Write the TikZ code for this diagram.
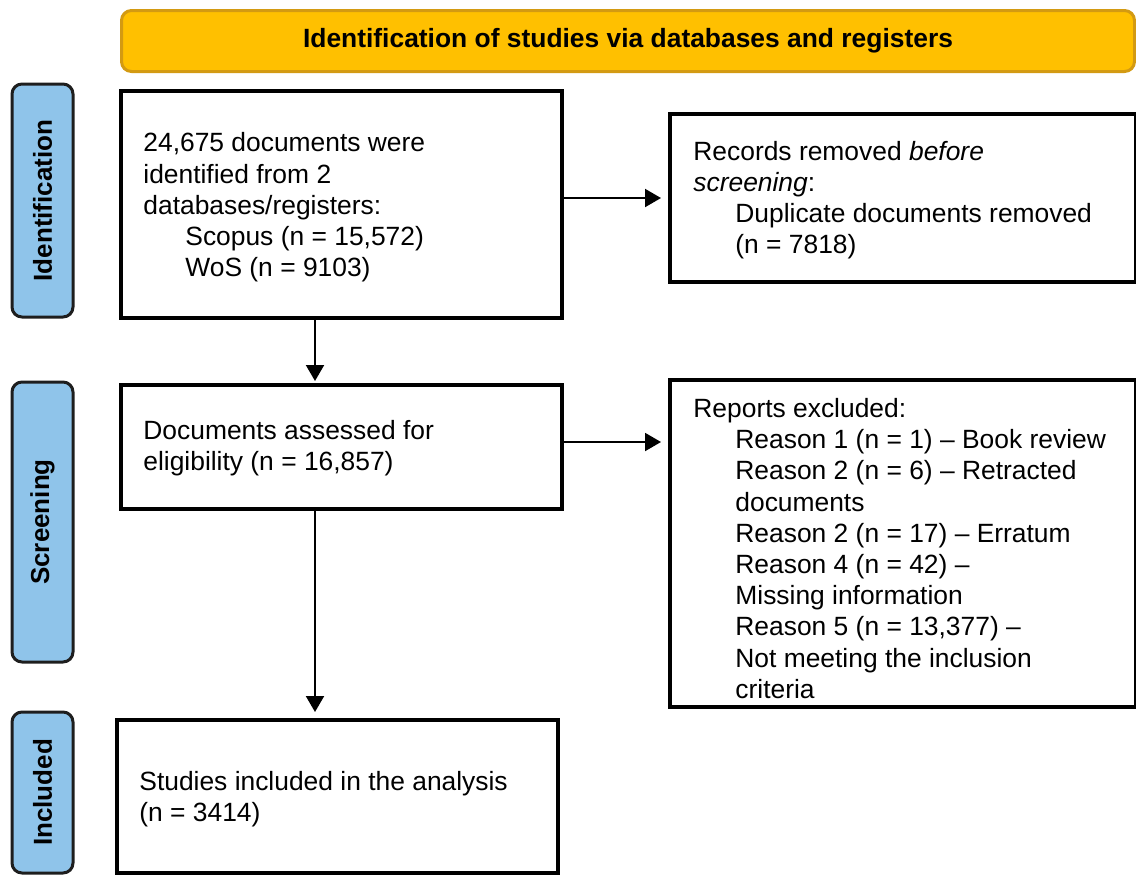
\documentclass[tikz,border=0pt]{standalone}
\usepackage{fontspec}
\setmainfont{Liberation Sans}
\usetikzlibrary{arrows.meta,calc}

\definecolor{bannerfill}{HTML}{FFC000}
\definecolor{bannerline}{HTML}{D39A12}
\definecolor{tabfill}{HTML}{8FC4EA}
\definecolor{tabline}{HTML}{1E1E1E}

\tikzset{
  x=0.5pt, y=-0.5pt,
  flowbox/.style={draw=black, line width=2pt, rectangle, anchor=north west, inner sep=0pt},
  boxtext/.style={anchor=west, align=left, inner sep=0pt,
    font=\fontsize{13.2}{15.6}\selectfont},
  phase/.style={draw=tabline, fill=tabfill, line width=1.5pt, rounded corners=5pt,
    rotate=90, minimum height=30.5pt, inner sep=0pt,
    font=\fontsize{13}{15.6}\selectfont\bfseries},
  flowarrow/.style={line width=1pt, -{Triangle[length=8pt,width=9pt]}},
}
\newcommand{\ind}{\hspace*{21pt}}

\begin{document}
\begin{tikzpicture}
\useasboundingbox (0,0) rectangle (1136,875);

% top banner
\node[draw=bannerline, fill=bannerfill, line width=1.5pt, rounded corners=5pt,
      anchor=north west, minimum width=506.5pt, minimum height=30.5pt, inner sep=0pt,
      font=\fontsize{13.2}{15.6}\selectfont\bfseries]
  (banner) at (120,9) {Identification of studies via databases and registers};

% phase labels on the left
\node[phase, minimum width=116.5pt] (tabid) at (42.5,200.5) {Identification};
\node[phase, minimum width=140pt]   (tabsc) at (42.5,522) {Screening};
\node[phase, minimum width=80.5pt]  (tabin) at (42.5,792.5) {Included};

% flow boxes
\node[flowbox, minimum width=220.5pt, minimum height=113.5pt] (b1) at (119,89) {};
\node[flowbox, minimum width=233pt,   minimum height=84pt]    (b2) at (668,112) {};
\node[flowbox, minimum width=220.5pt, minimum height=62pt]    (b3) at (119,383) {};
\node[flowbox, minimum width=233pt,   minimum height=163.5pt] (b4) at (668,378) {};
\node[flowbox, minimum width=220.5pt, minimum height=76.5pt]  (b5) at (115,718) {};

% box contents
\node[boxtext] (t1) at ([xshift=12pt,yshift=-1.5pt]b1.west) {24,675 documents were\\
  identified from 2\\
  databases/registers:\\
  \ind Scopus (n = 15,572)\\
  \ind WoS (n = 9103)};
\node[boxtext] (t2) at ([xshift=12.5pt,yshift=-1pt]b2.west) {Records removed \textit{before}\\
  \textit{screening}:\\
  \ind Duplicate documents removed\\
  \ind (n = 7818)};
\node[boxtext] (t3) at ([xshift=12pt,yshift=-0.5pt]b3.west) {Documents assessed for\\
  eligibility (n = 16,857)};
\node[boxtext] (t4) at ([xshift=12.5pt,yshift=-2.5pt]b4.west) {Reports excluded:\\
  \ind Reason 1 (n = 1) – Book review\\
  \ind Reason 2 (n = 6) – Retracted\\
  \ind documents\\
  \ind Reason 2 (n = 17) – Erratum\\
  \ind Reason 4 (n = 42) –\\
  \ind Missing information\\
  \ind Reason 5 (n = 13,377) –\\
  \ind Not meeting the inclusion\\
  \ind criteria};
\node[boxtext] (t5) at ([xshift=12pt,yshift=-1.5pt]b5.west) {Studies included in the analysis\\
  (n = 3414)};

% connectors
\coordinate (c1) at ([xshift=98pt]b1.south west);
\draw[flowarrow, shorten >=3.5pt] (b2.west -| b1.east) -- (b2.west);
\draw[flowarrow, shorten >=1pt] (c1) -- (c1 |- b3.north);
\draw[flowarrow, shorten >=3.5pt] ([yshift=2.5pt]b3.east) -- ([yshift=2.5pt]b3.east -| b4.west);
\draw[flowarrow, shorten >=3pt] (c1 |- b3.south) -- (c1 |- b5.north);
\end{tikzpicture}
\end{document}
